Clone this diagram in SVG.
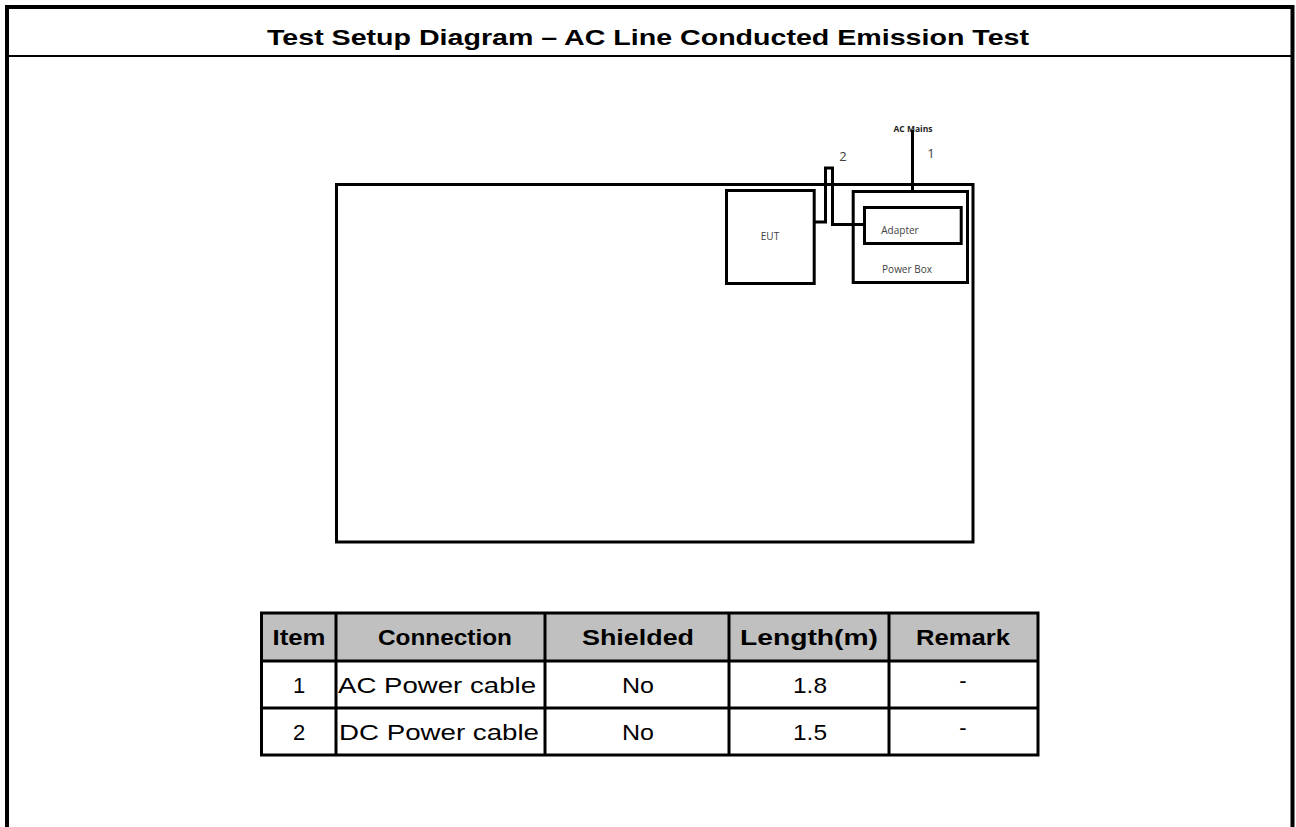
<svg xmlns="http://www.w3.org/2000/svg" width="1296" height="827" viewBox="0 0 1296 827">
<style>
.frame{fill:none;stroke:#000;stroke-width:4}
.box{fill:none;stroke:#000;stroke-width:3}
.cable{fill:none;stroke:#000;stroke-width:3;stroke-linejoin:miter}
.grid{stroke:#000;stroke-width:3;fill:none}
.hdr{fill:#c0c0c0}
.tt{font-family:"Liberation Sans",Arial,sans-serif;font-weight:bold;font-size:22px;fill:#000}
.th{font-family:"Liberation Sans",Arial,sans-serif;font-weight:bold;font-size:22px;fill:#000}
.td{font-family:"Liberation Sans",Arial,sans-serif;font-size:22px;fill:#000}
.sm{font-family:"Open Sans","Liberation Sans",sans-serif;font-size:10px;fill:#404040}
.num{font-family:"Open Sans","Liberation Sans",sans-serif;font-size:13px;fill:#404040}
.smb{font-family:"Open Sans","Liberation Sans",sans-serif;font-size:8.5px;font-weight:bold;fill:#222}
</style>
<rect width="1296" height="827" fill="#fff"/>
<g id="frame">
<path class="frame" d="M7,827 V7 H1292.5 V827"/>
<line x1="7" y1="56" x2="1292.5" y2="56" stroke="#000" stroke-width="2"/>
<text class="tt" x="648" y="45" text-anchor="middle" textLength="762" lengthAdjust="spacingAndGlyphs">Test Setup Diagram – AC Line Conducted Emission Test</text>
</g>
<g id="test-table">
<rect class="box" x="336.5" y="184.5" width="636.5" height="357.5"/>
</g>
<g id="eut">
<rect class="box" x="726.5" y="190.5" width="87.7" height="93"/>
<text class="sm" x="770" y="240" text-anchor="middle">EUT</text>
</g>
<g id="power-box">
<rect class="box" x="853.2" y="191.5" width="114.3" height="91"/>
<text class="sm" x="907" y="273" text-anchor="middle">Power Box</text>
</g>
<g id="adapter">
<rect class="box" x="864.5" y="207.5" width="96.7" height="36"/>
<text class="sm" x="900" y="234" text-anchor="middle">Adapter</text>
</g>
<g id="ac-mains">
<text class="smb" x="913" y="132" text-anchor="middle">AC Mains</text>
</g>
<g id="connectors">
<line class="cable" x1="912.5" y1="130" x2="912.5" y2="191.5"/>
<polyline class="cable" points="814,222 825.5,222 825.5,168 832.5,168 832.5,224.5 864.5,224.5"/>
<text class="num" x="931" y="158" text-anchor="middle">1</text>
<text class="num" x="843" y="161" text-anchor="middle">2</text>
</g>
<g id="cable-table">
<rect class="hdr" x="261.5" y="613" width="776.5" height="48"/>
<rect class="grid" x="261.5" y="613" width="776.5" height="142"/>
<line class="grid" x1="261.5" y1="661" x2="1038" y2="661"/>
<line class="grid" x1="261.5" y1="708" x2="1038" y2="708"/>
<line class="grid" x1="336" y1="613" x2="336" y2="755"/>
<line class="grid" x1="545" y1="613" x2="545" y2="755"/>
<line class="grid" x1="729" y1="613" x2="729" y2="755"/>
<line class="grid" x1="889" y1="613" x2="889" y2="755"/>
<text class="th" x="299" y="645" text-anchor="middle" textLength="53" lengthAdjust="spacingAndGlyphs">Item</text>
<text class="th" x="445" y="645" text-anchor="middle" textLength="134" lengthAdjust="spacingAndGlyphs">Connection</text>
<text class="th" x="638" y="645" text-anchor="middle" textLength="112" lengthAdjust="spacingAndGlyphs">Shielded</text>
<text class="th" x="809" y="645" text-anchor="middle" textLength="138" lengthAdjust="spacingAndGlyphs">Length(m)</text>
<text class="th" x="963" y="645" text-anchor="middle" textLength="94" lengthAdjust="spacingAndGlyphs">Remark</text>
<text class="td" x="299" y="693" text-anchor="middle">1</text>
<text class="td" x="437" y="693" text-anchor="middle" textLength="198" lengthAdjust="spacingAndGlyphs">AC Power cable</text>
<text class="td" x="638" y="693" text-anchor="middle" textLength="32" lengthAdjust="spacingAndGlyphs">No</text>
<text class="td" x="810" y="693" text-anchor="middle" textLength="34" lengthAdjust="spacingAndGlyphs">1.8</text>
<text class="td" x="963" y="688" text-anchor="middle">-</text>
<text class="td" x="299" y="740" text-anchor="middle">2</text>
<text class="td" x="439" y="740" text-anchor="middle" textLength="200" lengthAdjust="spacingAndGlyphs">DC Power cable</text>
<text class="td" x="638" y="740" text-anchor="middle" textLength="32" lengthAdjust="spacingAndGlyphs">No</text>
<text class="td" x="810" y="740" text-anchor="middle" textLength="34" lengthAdjust="spacingAndGlyphs">1.5</text>
<text class="td" x="963" y="735" text-anchor="middle">-</text>
</g>
</svg>
